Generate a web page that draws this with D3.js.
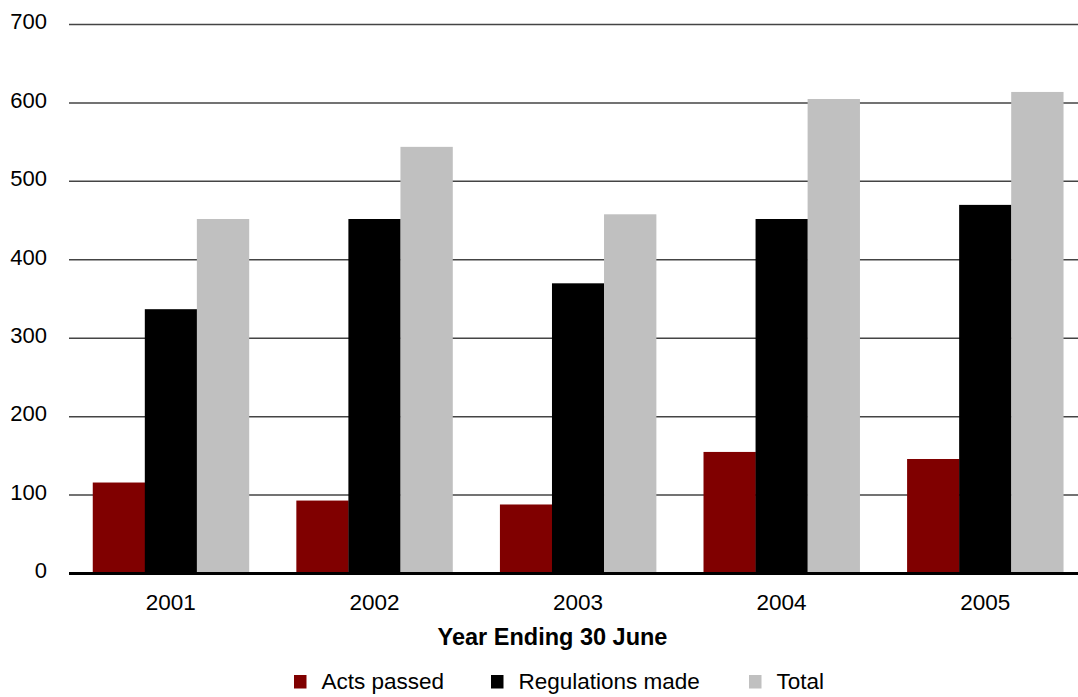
<!DOCTYPE html>
<html>
<head>
<meta charset="utf-8">
<script src="https://cdn.jsdelivr.net/npm/d3@7"></script>
<style>
  body { margin: 0; background: #fff; }
  text { font-family: "Liberation Sans", Arial, sans-serif; fill: #000; }
</style>
</head>
<body>
<div id="chart"></div>
<script>
// Chart data
const years = ['2001', '2002', '2003', '2004', '2005'];
const seriesNames = ['Acts passed', 'Regulations made', 'Total'];
const actsPassed = [116, 93, 88, 155, 146];
const regulationsMade = [337, 452, 370, 452, 470];
const totals = [452, 544, 458, 605, 614];
const yTicks = [0, 100, 200, 300, 400, 500, 600, 700];
const colors = ['#800000', '#000000', '#c0c0c0'];

const width = 1078, height = 697;
const margin = { top: 24.5, bottom: 123.5, left: 69, right: -9 };

const svg = d3.select('#chart')
  .append('svg')
  .attr('width', width)
  .attr('height', height);

const x = d3.scaleBand()
  .domain(years)
  .range([margin.left, width - margin.right])
  .paddingInner(0.233)
  .paddingOuter(0.1167);

const xInner = d3.scaleBand()
  .domain(seriesNames)
  .range([0, x.bandwidth()]);

const y = d3.scaleLinear()
  .domain([0, 700])
  .range([height - margin.bottom, margin.top]);

// Gridlines
svg.append('g')
  .selectAll('line')
  .data(yTicks.filter(d => d > 0))
  .enter()
  .append('line')
  .attr('x1', margin.left)
  .attr('x2', width)
  .attr('y1', d => y(d))
  .attr('y2', d => y(d))
  .style('stroke', '#444')
  .style('stroke-width', '1.5px');

// Y tick labels
svg.append('g')
  .selectAll('text')
  .data(yTicks)
  .enter()
  .append('text')
  .attr('x', 47)
  .attr('y', d => y(d))
  .attr('dy', '4.8')
  .attr('text-anchor', 'end')
  .style('font-size', '22px')
  .text(d => d);

// Bars
const rows = years.map((yr, i) => ({
  year: yr,
  values: [actsPassed[i], regulationsMade[i], totals[i]]
}));

const groups = svg.append('g')
  .selectAll('g')
  .data(rows)
  .enter()
  .append('g')
  .attr('transform', d => `translate(${x(d.year)},0)`);

groups.selectAll('rect')
  .data(d => d.values.map((v, j) => ({ name: seriesNames[j], value: v, idx: j })))
  .enter()
  .append('rect')
  .attr('x', d => xInner(d.name))
  .attr('width', xInner.bandwidth() + 0.3)
  .attr('y', d => y(d.value))
  .attr('height', d => y(0) - y(d.value))
  .style('fill', d => colors[d.idx]);

// Zero axis line
svg.append('line')
  .attr('x1', margin.left)
  .attr('x2', width)
  .attr('y1', y(0))
  .attr('y2', y(0))
  .style('stroke', '#000')
  .style('stroke-width', '3px');

// X tick labels
svg.append('g')
  .selectAll('text')
  .data(years)
  .enter()
  .append('text')
  .attr('x', d => x(d) + x.bandwidth() / 2)
  .attr('y', 610)
  .attr('text-anchor', 'middle')
  .style('font-size', '22.5px')
  .text(d => d);

// Axis title
svg.append('text')
  .attr('x', 552.5)
  .attr('y', 645)
  .attr('text-anchor', 'middle')
  .style('font-size', '23.5px')
  .style('font-weight', 'bold')
  .text('Year Ending 30 June');

// Legend
const legendX = [294, 491, 749];
const legend = svg.append('g')
  .selectAll('g')
  .data(seriesNames)
  .enter()
  .append('g')
  .attr('transform', (d, i) => `translate(${legendX[i]},675)`);

legend.append('rect')
  .attr('width', 12.5)
  .attr('height', 13.5)
  .style('fill', (d, i) => colors[i]);

legend.append('text')
  .attr('x', 27.5)
  .attr('y', 13.5)
  .style('font-size', '22.5px')
  .text(d => d);
</script>
</body>
</html>
